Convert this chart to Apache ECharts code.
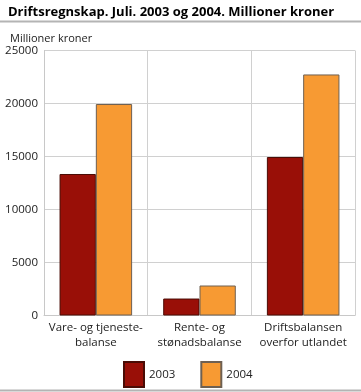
<!DOCTYPE html>
<html><head><meta charset="utf-8">
<script src="https://cdn.jsdelivr.net/npm/echarts@6/dist/echarts.min.js"></script>
<style>html,body{margin:0;padding:0;background:#fff}#c{width:361px;height:392px}</style>
</head><body><div id="c"></div>
<script>
const categories = ["Vare- og tjeneste-\nbalanse", "Rente- og\nstønadsbalanse", "Driftsbalansen\noverfor utlandet"];
const values2003 = [13350, 1600, 14950];
const values2004 = [19950, 2830, 22740];
const seriesNames = ["2003", "2004"];
const yTicks = { min: 0, max: 25000, interval: 5000 };

const font = '"Open Sans", "Noto Sans", sans-serif';
const chart = echarts.init(document.getElementById('c'), null, {renderer: 'canvas'});
chart.setOption({
  animation: false,
  textStyle: { fontFamily: font },
  title: [
    { text: 'Driftsregnskap. Juli. 2003 og 2004. Millioner kroner', left: 3, top: 1,
      textStyle: { fontFamily: font, fontSize: 13, fontWeight: 'bold', color: '#000' } },
    { text: 'Millioner kroner', left: 5, top: 28,
      textStyle: { fontFamily: font, fontSize: 11, fontWeight: 'normal', color: '#222' } }
  ],
  graphic: [
    { type: 'line', shape: { x1: 0, y1: 21.5, x2: 361, y2: 21.5 }, style: { stroke: '#b4b4b4', lineWidth: 2 } },
    { type: 'line', shape: { x1: 0, y1: 390.5, x2: 361, y2: 390.5 }, style: { stroke: '#b4b4b4', lineWidth: 2 } }
  ],
  grid: { left: 44, right: 6, top: 50.5, bottom: 76.5, containLabel: false },
  legend: {
    data: seriesNames, top: 356, left: 118, itemWidth: 20, itemHeight: 25, itemGap: 25,
    textStyle: { fontFamily: font, fontSize: 11.5, color: '#222' },
    icon: 'rect'
  },
  xAxis: {
    type: 'category', data: categories,
    axisLine: { lineStyle: { color: '#c8c8c8' } },
    axisTick: { show: false },
    splitLine: { show: true, lineStyle: { color: '#d0d0d0' } },
    axisLabel: { fontFamily: font, fontSize: 11.5, color: '#222', lineHeight: 15, margin: 5, interval: 0 }
  },
  yAxis: {
    type: 'value', min: yTicks.min, max: yTicks.max, interval: yTicks.interval,
    axisLine: { show: true, lineStyle: { color: '#c8c8c8' } },
    axisTick: { show: false },
    splitLine: { lineStyle: { color: '#d0d0d0' } },
    axisLabel: { fontFamily: font, fontSize: 11.5, color: '#222', margin: 6, formatter: v => String(v) }
  },
  series: [
    { name: seriesNames[0], type: 'bar', data: values2003, barGap: '0%', barCategoryGap: '30%',
      itemStyle: { color: '#990f07', borderColor: '#4a0c05', borderWidth: 1 } },
    { name: seriesNames[1], type: 'bar', data: values2004,
      itemStyle: { color: '#f79a33', borderColor: '#6e6052', borderWidth: 1 } }
  ]
});
</script></body></html>
